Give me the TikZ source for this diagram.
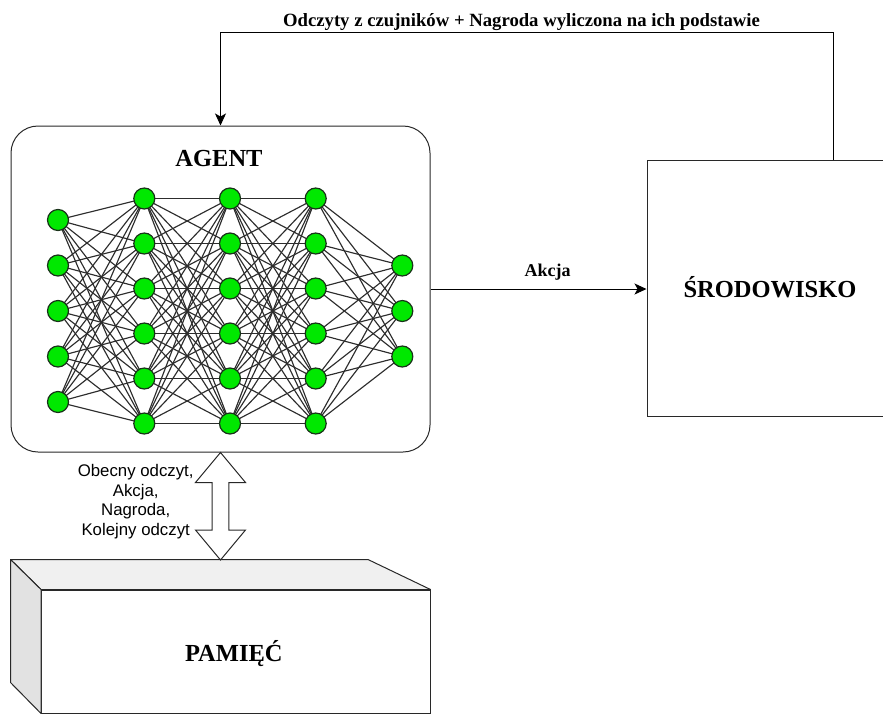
\documentclass[tikz,border=0pt]{standalone}
\usepackage{fontspec}
\setmainfont{Liberation Serif}
\newfontfamily\arialf{Liberation Sans}
\usetikzlibrary{arrows.meta,backgrounds}
\definecolor{nngreen}{RGB}{0,232,0}
\definecolor{nnborder}{RGB}{25,50,25}
\definecolor{edgegray}{RGB}{45,45,45}
\definecolor{cubetop}{RGB}{240,240,240}
\definecolor{cubeside}{RGB}{226,226,226}
\definecolor{outline}{RGB}{40,40,40}
\begin{document}
\begin{tikzpicture}[x=1pt,y=-1pt,
  neuron/.style={circle,draw=nnborder,fill=nngreen,line width=1.2pt,minimum size=21pt,inner sep=0pt},
  synapse/.style={draw=edgegray,line width=1.15pt},
  conn/.style={draw=black,line width=1pt,-{Stealth[length=12pt,width=11pt,inset=3pt]}},
  bigtitle/.style={font=\fontsize{24.5}{29}\selectfont\bfseries},
  edgelabel/.style={font=\fontsize{18}{21}\selectfont\bfseries},
  boxline/.style={draw=outline,line width=1pt}
]
\useasboundingbox (0,0) rectangle (883,715);
\clip (0,0) rectangle (883,715);

% Agent box
\node[boxline, rounded corners=27pt, minimum width=419pt, minimum height=326pt, inner sep=0pt] (agent) at (220.5,289) {};
\node[bigtitle, anchor=base] (agenttitle) at (219,166.7) {AGENT};

% Neural network nodes
\foreach \i [evaluate=\i as \yy using 220+45.5*(\i-1)] in {1,...,5}
  \node[neuron] (a\i) at (58,\yy) {};
\foreach \i [evaluate=\i as \yy using 198.5+45*(\i-1)] in {1,...,6} {
  \node[neuron] (b\i) at (144.3,\yy) {};
  \node[neuron] (c\i) at (230,\yy) {};
  \node[neuron] (d\i) at (315.7,\yy) {};
}
\foreach \i [evaluate=\i as \yy using 265.5+45.5*(\i-1)] in {1,...,3}
  \node[neuron] (e\i) at (402.3,\yy) {};

\begin{scope}[on background layer]
  \foreach \i in {1,...,5} \foreach \j in {1,...,6} \draw[synapse] (a\i.center) -- (b\j.center);
  \foreach \i in {1,...,6} \foreach \j in {1,...,6} {
    \draw[synapse] (b\i.center) -- (c\j.center);
    \draw[synapse] (c\i.center) -- (d\j.center);
  }
  \foreach \i in {1,...,6} \foreach \j in {1,...,3} \draw[synapse] (d\i.center) -- (e\j.center);
\end{scope}

% Environment box
\node[boxline, minimum width=246pt, minimum height=256pt, inner sep=0pt] (env) at (770,288) {};
\node[bigtitle, anchor=base] (envtitle) at (770,297.3) {ŚRODOWISKO};

% Action arrow
\draw[conn] (agent.east) -- (agent.east -| env.west);
\node[edgelabel, anchor=base] (akcja) at (547.7,276) {Akcja};

% Feedback arrow
\draw[conn] ([xshift=63pt]env.north) -- ++(0,-127) -| (agent.north);
\node[font=\fontsize{18.7}{22}\selectfont\bfseries, anchor=base] (fblabel) at (521.5,26.7) {Odczyty z czujników + Nagroda wyliczona na ich podstawie};

% Memory cube
\node[boxline, fill=white, minimum width=388.5pt, minimum height=123pt, inner sep=0pt] (mem) at (235.75,651.5) {};
\filldraw[boxline, fill=cubetop, line join=round] (mem.north west) -- ++(-30.5,-30) -- ++(357.5,0) -- (mem.north east) -- cycle;
\filldraw[boxline, fill=cubeside, line join=round] (mem.north west) -- ++(-30.5,-30) -- ++(0,123) -- (mem.south west) -- cycle;
\node[bigtitle, anchor=base] (memtitle) at (233.8,661.7) {PAMIĘĆ};

% Double arrow agent <-> memory
\draw[boxline, fill=white, line join=miter, shift={(agent.south)}]
  (0,0) -- (25,30) -- (8.3,30) -- (8.3,77.5) -- (25,77.5) -- (0,107.5)
  -- (-25,77.5) -- (-8.3,77.5) -- (-8.3,30) -- (-25,30) -- cycle;
\node[font=\arialf\fontsize{16.8}{19.7}\selectfont, align=center, inner sep=0pt] (memlabel) at (135.7,501.5)
  {Obecny odczyt,\\Akcja,\\Nagroda,\\Kolejny odczyt};
\end{tikzpicture}
\end{document}
